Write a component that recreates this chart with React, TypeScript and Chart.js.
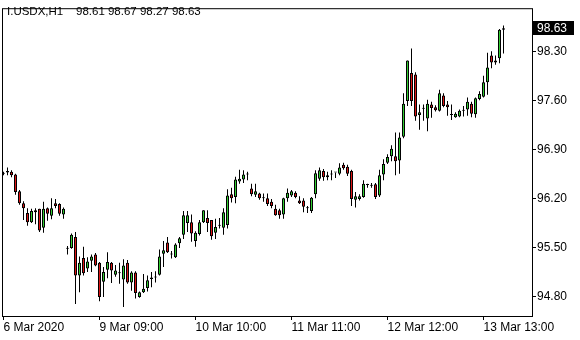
import React, { useEffect, useRef } from 'react';
import { Chart, registerables } from 'chart.js';

Chart.register(...registerables);

const SYMBOL = 'I.USDX,H1';
const LAST_OHLC = ['98.61', '98.67', '98.27', '98.63'];

const OPEN = [
  96.55, 96.57, 96.58, 96.54, 96.30, 96.13, 95.99, 95.86, 96.00, 96.05,
  95.78, 96.06, 95.95, 96.13, 96.12, 95.97, 95.48, 95.49, 95.65, 95.10,
  95.35, 95.20, 95.31, 95.40, 95.28, 95.01, 95.18, 95.28, 95.11, 95.13,
  95.04, 95.28, 95.00, 95.14, 94.79, 94.86, 94.92, 95.05, 95.07, 95.11,
  95.41, 95.57, 95.40, 95.36, 95.56, 95.68, 95.85, 95.86, 95.59, 95.69,
  95.86, 95.92, 95.89, 95.71, 95.81, 95.78, 95.82, 96.26, 96.22, 96.44,
  96.47, 96.54, 96.34, 96.25, 96.27, 96.21, 96.20, 96.15, 96.05, 96.03,
  95.97, 96.20, 96.24, 96.28, 96.17, 96.17, 96.06, 96.02, 96.26, 96.48,
  96.59, 96.53, 96.54, 96.57, 96.55, 96.68, 96.65, 96.59, 96.18, 96.19,
  96.22, 96.39, 96.38, 96.40, 96.24, 96.54, 96.71, 96.80, 96.80, 96.74,
  97.08, 97.59, 97.99, 97.97, 97.39, 97.48, 97.34, 97.54, 97.50, 97.45,
  97.67, 97.54, 97.39, 97.36, 97.37, 97.45, 97.47, 97.55, 97.40, 97.62,
  97.65, 97.86, 98.24, 98.14, 98.20, 98.61,
];
const HIGH = [
  96.58, 96.64, 96.60, 96.55, 96.32, 96.16, 96.06, 96.05, 96.06, 96.05,
  96.15, 96.07, 96.20, 96.19, 96.13, 96.07, 95.52, 95.70, 95.72, 95.37,
  95.51, 95.36, 95.40, 95.42, 95.29, 95.22, 95.43, 95.29, 95.25, 95.28,
  95.33, 95.32, 95.16, 95.16, 94.87, 95.12, 95.10, 95.15, 95.16, 95.47,
  95.59, 95.65, 95.45, 95.56, 95.65, 96.02, 96.02, 95.97, 95.73, 95.89,
  96.03, 96.03, 95.89, 95.91, 95.92, 96.06, 96.33, 96.35, 96.51, 96.61,
  96.60, 96.58, 96.41, 96.41, 96.28, 96.27, 96.27, 96.19, 96.11, 96.05,
  96.21, 96.34, 96.32, 96.30, 96.23, 96.20, 96.09, 96.22, 96.60, 96.64,
  96.62, 96.58, 96.60, 96.57, 96.70, 96.71, 96.68, 96.61, 96.29, 96.26,
  96.46, 96.41, 96.42, 96.42, 96.61, 96.76, 96.83, 96.96, 97.14, 97.14,
  97.70, 98.17, 98.34, 98.00, 97.54, 97.54, 97.61, 97.58, 97.53, 97.75,
  97.70, 97.59, 97.54, 97.43, 97.47, 97.52, 97.64, 97.58, 97.64, 97.73,
  97.95, 98.28, 98.30, 98.24, 98.62, 98.67,
];
const LOW = [
  96.53, 96.53, 96.50, 96.25, 96.11, 95.89, 95.81, 95.85, 95.83, 95.72,
  95.71, 95.88, 95.90, 96.06, 95.95, 95.91, 95.40, 95.48, 94.69, 94.86,
  95.10, 95.15, 95.15, 95.23, 94.73, 94.79, 95.06, 94.99, 95.08, 94.98,
  94.65, 94.98, 94.88, 94.77, 94.78, 94.85, 94.87, 94.93, 95.00, 95.10,
  95.22, 95.42, 95.34, 95.35, 95.49, 95.62, 95.72, 95.58, 95.51, 95.67,
  95.85, 95.72, 95.61, 95.62, 95.77, 95.68, 95.77, 96.14, 96.13, 96.41,
  96.42, 96.46, 96.23, 96.22, 96.18, 96.15, 96.09, 96.06, 95.95, 95.91,
  95.91, 96.15, 96.22, 96.20, 96.12, 96.00, 95.99, 95.99, 96.20, 96.45,
  96.45, 96.46, 96.46, 96.49, 96.53, 96.61, 96.52, 96.09, 96.07, 96.17,
  96.21, 96.35, 96.35, 96.19, 96.22, 96.46, 96.69, 96.73, 96.53, 96.55,
  97.06, 97.52, 97.52, 97.31, 97.18, 97.31, 97.16, 97.35, 97.44, 97.44,
  97.50, 97.38, 97.32, 97.35, 97.36, 97.37, 97.38, 97.36, 97.35, 97.60,
  97.64, 97.68, 98.06, 98.11, 98.13, 98.27,
];
const CLOSE = [
  96.56, 96.59, 96.53, 96.29, 96.13, 96.06, 95.86, 96.02, 96.03, 95.74,
  96.05, 95.98, 96.06, 96.09, 95.98, 96.05, 95.48, 95.68, 95.10, 95.28,
  95.13, 95.30, 95.37, 95.24, 94.79, 95.15, 95.29, 95.17, 95.17, 95.13,
  95.24, 95.00, 95.14, 94.85, 94.86, 94.91, 95.03, 95.07, 95.07, 95.37,
  95.46, 95.43, 95.40, 95.54, 95.63, 95.96, 95.96, 95.70, 95.71, 95.86,
  96.03, 95.85, 95.66, 95.79, 95.82, 96.00, 96.24, 96.20, 96.47, 96.48,
  96.54, 96.55, 96.26, 96.30, 96.20, 96.20, 96.12, 96.09, 95.96, 95.96,
  96.20, 96.28, 96.30, 96.22, 96.13, 96.08, 96.06, 96.21, 96.56, 96.60,
  96.50, 96.50, 96.54, 96.57, 96.64, 96.63, 96.55, 96.19, 96.23, 96.23,
  96.41, 96.39, 96.39, 96.22, 96.53, 96.69, 96.79, 96.91, 96.73, 97.07,
  97.55, 98.17, 97.59, 97.37, 97.43, 97.48, 97.55, 97.49, 97.46, 97.70,
  97.52, 97.50, 97.39, 97.41, 97.45, 97.45, 97.58, 97.41, 97.63, 97.69,
  97.86, 98.07, 98.14, 98.17, 98.61, 98.63,
];

const TIME_TICK_INDEX = [0, 24, 48, 72, 96, 120];
const TIME_TICK_LABELS = ['6 Mar 2020', '9 Mar 09:00', '10 Mar 10:00', '11 Mar 11:00', '12 Mar 12:00', '13 Mar 13:00'];
const PRICE_TICKS = [94.8, 95.5, 96.2, 96.9, 97.6, 98.3];
const PRICE_MIN = 94.52;
const PRICE_MAX = 98.916;

const UP = '#32cd32';
const DOWN = '#dc1414';
const FONT = 'Liberation Sans';

const overlayPlugin = {
  id: 'mt4overlay',
  afterDraw(chart: any) {
    const { ctx, chartArea } = chart;
    const yScale = chart.scales.y;
    ctx.save();
    // frame
    ctx.strokeStyle = '#000';
    ctx.lineWidth = 1;
    ctx.strokeRect(chartArea.left + 0.5, chartArea.top + 0.5, chartArea.right - chartArea.left, chartArea.bottom - chartArea.top);
    // title
    ctx.fillStyle = '#000';
    ctx.font = `11.5px "${FONT}"`;
    ctx.textBaseline = 'middle';
    ctx.textAlign = 'left';
    ctx.fillText(SYMBOL, 7, 12);
    ctx.fillText(LAST_OHLC.join(' '), 76, 12);
    // last price label
    const last = CLOSE[CLOSE.length - 1];
    const py = Math.round(yScale.getPixelForValue(last));
    ctx.fillStyle = '#000';
    ctx.fillRect(chartArea.right, py - 7, 42, 14);
    ctx.fillStyle = '#fff';
    ctx.font = `12px "${FONT}"`;
    ctx.fillText(last.toFixed(2), chartArea.right + 5, py + 0.5);
    ctx.restore();
  },
};

export default function App() {
  const ref = useRef<HTMLCanvasElement | null>(null);
  useEffect(() => {
    if (!ref.current) return;
    const bodyColors = OPEN.map((o, i) => (CLOSE[i] > o ? UP : CLOSE[i] < o ? DOWN : '#000'));
    const chart = new Chart(ref.current, {
      type: 'bar',
      data: {
        datasets: [
          {
            label: 'body',
            data: OPEN.map((o, i) => ({ x: i, y: [o, CLOSE[i]] })) as any,
            backgroundColor: bodyColors,
            borderColor: '#000',
            borderWidth: 1,
            borderSkipped: false,
            barThickness: 3,
            minBarLength: 1,
            grouped: false,
            inflateAmount: 0,
          } as any,
          {
            label: 'wick',
            data: LOW.map((l, i) => ({ x: i, y: [l, HIGH[i]] })) as any,
            backgroundColor: '#000',
            borderWidth: 0,
            barThickness: 1,
            grouped: false,
            inflateAmount: 0,
          } as any,
        ],
      },
      options: {
        responsive: false,
        animation: false,
        events: [],
        layout: { padding: { left: 2, top: 2, right: 0, bottom: 0 } },
        plugins: { legend: { display: false }, tooltip: { enabled: false }, title: { display: false } },
        scales: {
          x: {
            type: 'linear',
            offset: false,
            min: -0.375,
            max: 132.125,
            afterBuildTicks: (s: any) => {
              s.ticks = TIME_TICK_INDEX.map((v) => ({ value: v }));
            },
            afterFit: (s: any) => {
              s.height = 24;
            },
            ticks: {
              autoSkip: false,
              maxRotation: 0,
              minRotation: 0,
              align: 'start',
              padding: 0,
              color: '#000',
              font: { family: FONT, size: 12 },
              callback: (v: any) => {
                const k = TIME_TICK_INDEX.indexOf(Number(v));
                return k >= 0 ? TIME_TICK_LABELS[k] : '';
              },
            },
            grid: { display: true, drawOnChartArea: false, drawTicks: true, tickLength: 4, color: '#000', offset: false },
            border: { display: false },
          },
          y: {
            type: 'linear',
            position: 'right',
            min: PRICE_MIN,
            max: PRICE_MAX,
            afterBuildTicks: (s: any) => {
              s.ticks = PRICE_TICKS.map((v) => ({ value: v }));
            },
            afterFit: (s: any) => {
              s.width = 48;
            },
            ticks: {
              padding: 1,
              color: '#000',
              font: { family: FONT, size: 12 },
              callback: (v: any) => Number(v).toFixed(2),
            },
            grid: { display: true, drawOnChartArea: false, drawTicks: true, tickLength: 4, color: '#000' },
            border: { display: false },
          },
        },
      } as any,
      plugins: [overlayPlugin],
    });
    return () => chart.destroy();
  }, []);
  return (
    <div style={{ position: 'fixed', left: 0, top: 0, width: 580, height: 340, background: '#fff' }}>
      <canvas ref={ref} width={580} height={340} style={{ width: 580, height: 340, display: 'block' }} />
    </div>
  );
}
